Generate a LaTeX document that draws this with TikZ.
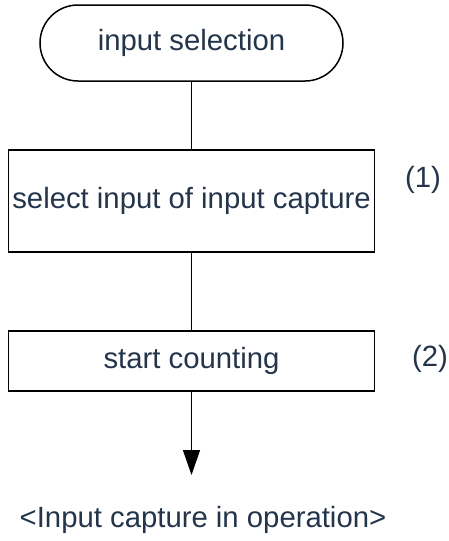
\documentclass[tikz,border=0pt]{standalone}
\usepackage{fontspec}
\setmainfont{Liberation Sans}
\usetikzlibrary{arrows.meta,positioning}
\definecolor{inknavy}{RGB}{35,52,75}

\begin{document}
\begin{tikzpicture}[x=1pt,y=-1pt,
    flowtext/.style={text=inknavy,font=\fontsize{29.3}{35}\selectfont},
    flowbox/.style={flowtext,draw,line width=1.5pt,inner sep=0pt,minimum width=366pt}]
        \useasboundingbox (0,0) rectangle (449,541);
        % Terminal
        \node[flowbox,rounded corners=38pt,minimum width=303pt,
          minimum height=76pt] (selection) at (191.5,43) {input selection};
        % Steps
        \node[flowbox,minimum height=102pt] (capsel) at (191.5,201)
          {select input of input capture};
        \node[flowbox,minimum height=60pt] (counting) at (191.5,361)
          {start counting};
        % Step numbers
        \node[flowtext] (mark1) at (423,180) {(1)};
        \node[flowtext] (mark2) at (430,359) {(2)};
        % Result
        \coordinate (tip) at (191.5,475);
        \node[flowtext] (running) at (203,520)
          {<Input capture in operation>};
        % Connectors
        \draw[line width=1.5pt] (selection) -- (capsel);
        \draw[line width=1.5pt] (capsel) -- (counting);
        \draw[line width=1.5pt,-{Triangle[length=25pt,width=17pt]}]
          (counting) -- (tip);
      \end{tikzpicture}
\end{document}
